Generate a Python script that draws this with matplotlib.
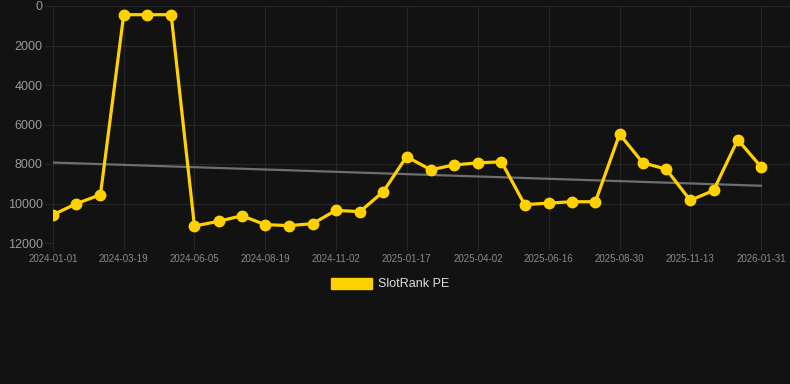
import matplotlib
matplotlib.use("Agg")
import matplotlib.pyplot as plt
import matplotlib.dates as mdates
from matplotlib.patches import Patch
import numpy as np
import pandas as pd

# 数据
dates = ['2024-01-01', '2024-01-26', '2024-02-21', '2024-03-17', '2024-04-11', '2024-05-07',
         '2024-06-01', '2024-06-27', '2024-07-22', '2024-08-16', '2024-09-11', '2024-10-06',
         '2024-10-31', '2024-11-26', '2024-12-21', '2025-01-15', '2025-02-10', '2025-03-07',
         '2025-04-02', '2025-04-27', '2025-05-22', '2025-06-17', '2025-07-12', '2025-08-06',
         '2025-09-01', '2025-09-26', '2025-10-21', '2025-11-16', '2025-12-11', '2026-01-06',
         '2026-01-31']
rank_pe = [10570, 10010, 9555, 440, 440, 440,
           11140, 10900, 10620, 11070, 11120, 11020,
           10350, 10410, 9400, 7630, 8290, 8050,
           7940, 7890, 10060, 9980, 9910, 9910,
           6490, 7940, 8260, 9840, 9340, 6770,
           8140]
tick_labels = ['2024-01-01', '2024-03-19', '2024-06-05', '2024-08-19', '2024-11-02', '2025-01-17',
               '2025-04-02', '2025-06-16', '2025-08-30', '2025-11-13', '2026-01-31']
y_ticks = [0, 2000, 4000, 6000, 8000, 10000, 12000]

bg = '#121212'
grid_c = '#262626'
yellow = '#ffd100'

plt.rcParams['font.family'] = ['Liberation Sans', 'DejaVu Sans']

x = pd.to_datetime(dates)
xn = mdates.date2num(x)

fig = plt.figure(figsize=(7.9, 3.84), dpi=100, facecolor=bg)
ax = fig.add_axes([53 / 790, 1 - 243 / 384, 1 - 53 / 790, (243 - 6) / 384])
ax.set_facecolor(bg)

# 趋势线（线性回归）
k, b = np.polyfit(xn - xn[0], rank_pe, 1)
ax.plot(x[[0, -1]], k * (xn[[0, -1]] - xn[0]) + b, color='#6e6e6e', lw=1.6, zorder=2)

ax.plot(x, rank_pe, color=yellow, lw=2.3, marker='o', markersize=7.5, zorder=3)

# 坐标轴范围
px_per_day = (761 - 53) / (xn[-1] - xn[0])
ax.set_xlim(xn[0], xn[0] + (790 - 53) / px_per_day)
ax.set_ylim(12000, 0)

# 每三个点一个刻度
ax.set_xticks(xn[::3])
ax.set_xticklabels(tick_labels)
ax.set_yticks(y_ticks)

ax.grid(True, color=grid_c, lw=0.8)
for s in ax.spines.values():
    s.set_visible(False)
ax.tick_params(axis='x', colors=grid_c, labelcolor='#8a8a8a', labelsize=7, length=5, width=0.8, pad=3)
ax.tick_params(axis='y', colors=grid_c, labelcolor='#9a9a9a', labelsize=9, length=6, width=0.8, pad=1.5)

fig.legend(handles=[Patch(facecolor=yellow, edgecolor=yellow)], labels=['SlotRank PE'],
           loc='center', bbox_to_anchor=(390 / 790, 1 - 284 / 384), frameon=False,
           fontsize=9, labelcolor='#dddddd', handlelength=3.3, handleheight=1.0, handletextpad=0.5)

plt.savefig('out.png', dpi=100, facecolor=bg)
